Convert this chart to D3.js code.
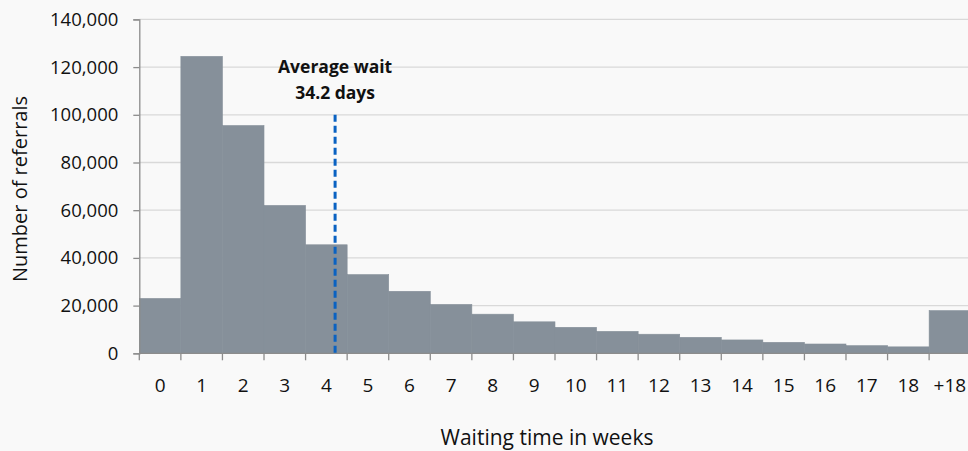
<!DOCTYPE html>
<html>
<head>
<meta charset="utf-8">
<script src="https://cdn.jsdelivr.net/npm/d3@7"></script>
<style>
  html, body { margin: 0; padding: 0; background: #f9f9f9; }
  svg { display: block; font-family: "Open Sans", sans-serif; }
</style>
</head>
<body>
<svg id="chart" width="968" height="451"></svg>
<script>
// weeks waited, one bar per bucket
const weeks = ['0', '1', '2', '3', '4', '5', '6', '7', '8', '9', '10',
               '11', '12', '13', '14', '15', '16', '17', '18', '+18'];
const referrals = [23000, 124500, 95500, 62000, 45500, 33000, 26000, 20500, 16400, 13200,
                   10900, 9200, 8000, 6700, 5600, 4600, 3900, 3200, 2700, 17900];
const yTicks = [0, 20000, 40000, 60000, 80000, 100000, 120000, 140000];

// dashed marker for the average wait (position in week buckets as drawn)
const avgPos = 4.71;
const avgTop = 100000;
const avgLabel = ['Average wait', '34.2 days'];

const svg = d3.select('#chart');
// plot box (the last bar runs a little past the right edge of the picture)
const plotL = 139.3, plotR = 970.7, plotT = 19.4, plotB = 353.3;

const x = d3.scaleBand().domain(weeks).range([plotL, plotR]).paddingInner(0).paddingOuter(0);
const xLin = d3.scaleLinear().domain([0, weeks.length]).range([plotL, plotR]);
const y = d3.scaleLinear().domain([0, 140000]).range([plotB, plotT]);

// gridlines
svg.append('g')
  .selectAll('line')
  .data(yTicks.filter(d => d > 0))
  .join('line')
  .attr('x1', plotL).attr('x2', plotR)
  .attr('y1', d => y(d)).attr('y2', d => y(d))
  .attr('stroke', '#d9d9d9').attr('stroke-width', 1.3);

// bars (thin same-colour stroke hides the seams between neighbours)
svg.append('g')
  .selectAll('rect')
  .data(referrals)
  .join('rect')
  .attr('x', (d, i) => x(weeks[i]))
  .attr('width', x.bandwidth())
  .attr('y', d => y(d))
  .attr('height', d => plotB - y(d))
  .attr('fill', '#86909a')
  .attr('stroke', '#86909a')
  .attr('stroke-width', 0.6);

// y axis
const yAxis = svg.append('g')
  .attr('transform', `translate(${plotL},0)`)
  .call(d3.axisLeft(y).tickValues(yTicks).tickSize(6).tickPadding(15)
    .tickFormat(d3.format(',')));
yAxis.select('.domain').attr('stroke', '#8c8c8c').attr('stroke-width', 1.3);
yAxis.selectAll('.tick line').attr('stroke', '#8c8c8c').attr('stroke-width', 1.3);
yAxis.selectAll('.tick text').attr('font-size', 18.5).attr('fill', '#111')
  .attr('font-family', '"Open Sans", sans-serif');

// x axis: tick marks at band edges, labels at band centres
const xg = svg.append('g').attr('transform', `translate(0,${plotB})`);
xg.append('line').attr('x1', plotL).attr('x2', plotR)
  .attr('stroke', '#8c8c8c').attr('stroke-width', 1.3);
xg.selectAll('line.edge')
  .data(d3.range(weeks.length + 1))
  .join('line')
  .attr('class', 'edge')
  .attr('x1', d => xLin(d)).attr('x2', d => xLin(d))
  .attr('y1', 0).attr('y2', 7)
  .attr('stroke', '#8c8c8c').attr('stroke-width', 1.3);
xg.selectAll('text')
  .data(weeks)
  .join('text')
  .attr('x', d => x(d) + x.bandwidth() / 2)
  .attr('y', 39)
  .attr('text-anchor', 'middle')
  .attr('font-size', 19)
  .attr('fill', '#111')
  .text(d => d);

// average wait marker
svg.append('line')
  .attr('x1', xLin(avgPos)).attr('x2', xLin(avgPos))
  .attr('y1', y(avgTop)).attr('y2', plotB)
  .attr('stroke', '#0a62c2').attr('stroke-width', 3)
  .attr('stroke-dasharray', '7,4');
svg.append('text')
  .attr('x', xLin(avgPos))
  .attr('text-anchor', 'middle')
  .attr('font-size', 17.5)
  .attr('font-weight', 'bold')
  .attr('fill', '#111')
  .selectAll('tspan')
  .data(avgLabel)
  .join('tspan')
  .attr('x', xLin(avgPos))
  .attr('y', (d, i) => 73 + i * 26)
  .text(d => d);

// axis titles
svg.append('text')
  .attr('transform', 'translate(27,189) rotate(-90)')
  .attr('text-anchor', 'middle')
  .attr('font-size', 20)
  .attr('fill', '#111')
  .text('Number of referrals');
svg.append('text')
  .attr('x', 547).attr('y', 445)
  .attr('text-anchor', 'middle')
  .attr('font-size', 21)
  .attr('fill', '#111')
  .text('Waiting time in weeks');
</script>
</body>
</html>
